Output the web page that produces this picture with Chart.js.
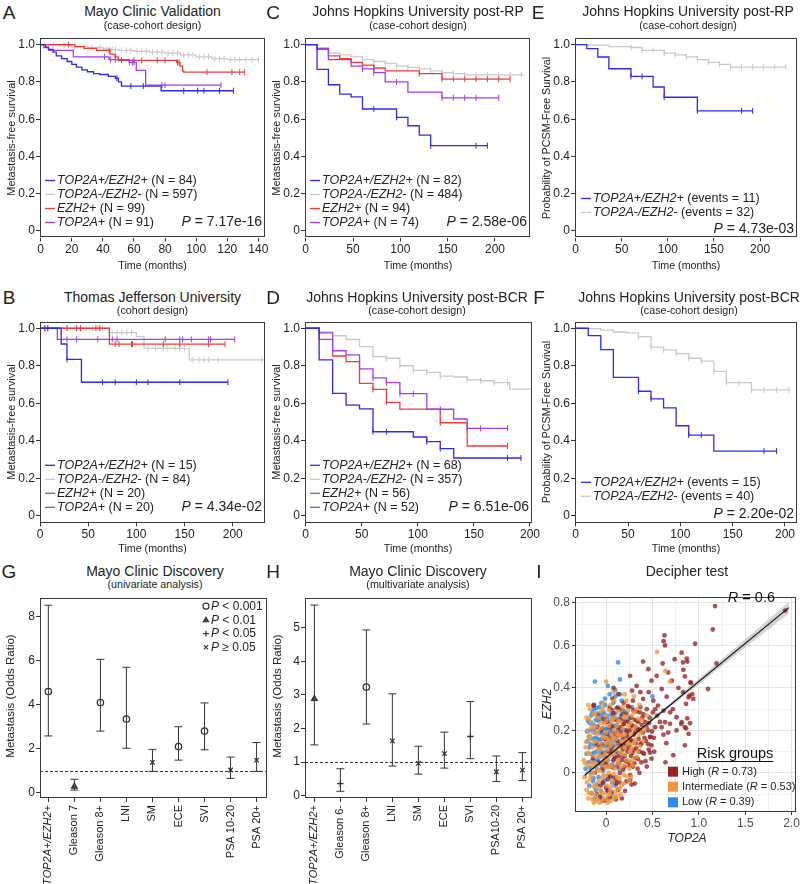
<!DOCTYPE html>
<html>
<head>
<meta charset="utf-8">
<script src="https://cdn.jsdelivr.net/npm/chart.js@4.4.0/dist/chart.umd.min.js"></script>
<style>
body { margin: 0; background: #fff; }
#fig { position: relative; width: 800px; height: 884px; overflow: hidden; font-family: "Liberation Sans", Arial, sans-serif; color: #222; }
#fig canvas { position: absolute; }
.t { position: absolute; white-space: nowrap; line-height: 1; transform: translate(-50%, -50%); }
.v { position: absolute; white-space: nowrap; line-height: 1; transform: translate(-50%, -50%) rotate(-90deg); }
</style>
</head>
<body>
<div id="fig"></div>
<script>
// ---- Kaplan-Meier data (time in months, survival, censor times) ----
// A: Mayo Clinic Validation
const aBlueT = [0, 3, 5, 8, 10, 13.5, 17, 20, 23, 26.5, 30, 34, 38, 43.5, 48, 50, 52, 77.5, 124];
const aBlueS = [1, .987, .975, .96, .94, .925, .91, .895, .88, .865, .855, .845, .84, .83, .82, .8, .778, .753, .753];
const aBlueC = [49, 58, 66, 92, 101, 105, 115, 124];
const aGrayT = [0, 5, 12, 20, 30, 40, 45, 50, 60, 70, 80, 90, 100, 110, 120, 140];
const aGrayS = [1, .998, .995, .99, .985, .978, .974, .97, .965, .96, .955, .945, .935, .925, .92, .918];
const aGrayC = [8, 15, 22, 28, 33, 38, 42, 46, 48, 52, 55, 58, 62, 65, 68, 72, 75, 78, 82, 85, 88, 92, 95, 98, 102, 105, 108, 112, 115, 118, 122, 125, 128, 132, 136, 140];
const aRedT = [0, 22, 28, 36, 44.6, 47.8, 50, 87.5, 89.6, 91.3, 92, 131];
const aRedS = [1, .99, .98, .97, .95, .935, .916, .905, .885, .86, .853, .853];
const aRedC = [18, 44, 48, 52, 60, 65, 75, 80, 88, 89, 107, 123, 128, 131];
const aPurT = [0, 2, 5, 21, 44, 57, 61.5, 67.5, 116];
const aPurS = [1, .985, .97, .935, .92, .905, .862, .783, .783];
const aPurC = [41, 45, 48, 57, 59, 60, 78, 80, 116];

// B: Thomas Jefferson University
const bBlueT = [0, 22, 28, 43, 195];
const bBlueS = [1, .916, .834, .712, .712];
const bBlueC = [28, 65, 78, 100, 112, 145, 195];
const bGrayT = [0, 72, 100, 108, 155, 233];
const bGrayS = [1, .977, .955, .893, .831, .831];
const bGrayC = [5, 8, 28, 38, 42, 48, 55, 60, 62, 65, 75, 80, 85, 90, 95, 112, 120, 128, 132, 140, 145, 150, 158, 165, 170, 175, 185, 230, 233];
const bRedT = [0, 72, 192];
const bRedS = [1, .915, .915];
const bRedC = [5, 8, 28, 38, 42, 58, 62, 78, 82, 95, 96, 128, 145, 175, 192];
const bPurT = [0, 18, 202];
const bPurS = [1, .941, .941];
const bPurC = [5, 8, 28, 38, 60, 75, 80, 130, 145, 148, 157, 175, 177, 202];

// C: Johns Hopkins post-RP
const cBlueT = [0, 12, 24, 36, 48, 60, 96, 108, 120, 132, 192];
const cBlueS = [1, .868, .785, .735, .72, .655, .61, .565, .515, .458, .458];
const cBlueC = [72, 96, 132, 180, 192];
const cGrayT = [0, 12, 24, 36, 48, 60, 72, 84, 96, 108, 120, 132, 144, 156, 168, 230];
const cGrayS = [1, .982, .955, .945, .935, .92, .91, .9, .885, .878, .87, .86, .85, .845, .838, .835];
const cGrayC = [60, 72, 84, 96, 108, 120, 132, 144, 156, 168, 180, 192, 204, 216, 228];
const cRedT = [0, 12, 24, 36, 48, 60, 72, 84, 120, 144, 216];
const cRedS = [1, .975, .94, .925, .905, .89, .875, .86, .845, .815, .815];
const cRedC = [60, 72, 120, 144, 156, 168, 180, 192, 204, 216];
const cPurT = [0, 12, 24, 48, 60, 72, 84, 108, 144, 204];
const cPurS = [1, .98, .92, .885, .87, .85, .8, .745, .715, .715];
const cPurC = [60, 72, 96, 144, 156, 168, 180, 204];

// D: Johns Hopkins post-BCR
const dBlueT = [0, 12, 24, 36, 48, 60, 96, 108, 120, 132, 192];
const dBlueS = [1, .831, .653, .59, .57, .448, .42, .395, .358, .308, .308];
const dBlueC = [60, 72, 108, 120, 180, 192];
const dGrayT = [0, 12, 24, 36, 48, 60, 72, 84, 96, 108, 120, 132, 144, 156, 168, 182, 204];
const dGrayS = [1, .98, .96, .94, .902, .849, .84, .8, .775, .765, .745, .74, .725, .72, .71, .675, .675];
const dGrayC = [60, 72, 84, 96, 108, 120, 144, 156, 168, 180, 204];
const dRedT = [0, 12, 24, 36, 48, 60, 72, 84, 120, 144, 180];
const dRedS = [1, .941, .852, .822, .706, .674, .605, .569, .496, .372, .372];
const dRedC = [60, 72, 120, 180];
const dPurT = [0, 12, 24, 36, 48, 60, 72, 84, 108, 132, 144, 180];
const dPurS = [1, .975, .88, .858, .783, .735, .71, .651, .568, .516, .466, .466];
const dPurC = [24, 60, 72, 84, 96, 120, 144, 156, 180];

// E: PCSM-free, post-RP
const eBlueT = [0, 12, 24, 36, 60, 84, 96, 132, 192];
const eBlueS = [1, .979, .934, .871, .83, .773, .718, .645, .645];
const eBlueC = [60, 72, 96, 132, 180, 192];
const eGrayT = [0, 12, 36, 60, 72, 96, 108, 120, 132, 144, 156, 168, 228];
const eGrayS = [1, .998, .99, .985, .97, .955, .945, .935, .92, .905, .895, .88, .88];
const eGrayC = [60, 72, 84, 96, 108, 120, 132, 144, 156, 168, 180, 192, 204, 216, 228];

// F: PCSM-free, post-BCR
const fBlueT = [0, 12, 24, 36, 60, 72, 84, 96, 108, 132, 192];
const fBlueS = [1, .961, .886, .738, .664, .623, .575, .48, .43, .345, .345];
const fBlueC = [60, 72, 108, 120, 180, 192];
const fGrayT = [0, 12, 24, 36, 48, 60, 72, 84, 96, 108, 120, 132, 144, 168, 204];
const fGrayS = [1, .998, .99, .98, .975, .955, .899, .885, .865, .84, .825, .77, .71, .671, .671];
const fGrayC = [60, 72, 84, 96, 108, 120, 132, 144, 156, 168, 180, 192, 204];

const kmYTicks = [0, 0.2, 0.4, 0.6, 0.8, 1.0];
const monthTicks140 = [0, 20, 40, 60, 80, 100, 120, 140];
const monthTicks200 = [0, 50, 100, 150, 200];

// ---- Odds ratio panels ----
const gCats = ['*TOP2A+/EZH2+*', 'Gleason 7', 'Gleason 8+', 'LNI', 'SM', 'ECE', 'SVI', 'PSA 10-20', 'PSA 20+'];
const gOR = [4.6, 0.28, 4.1, 3.35, 1.38, 2.1, 2.8, 1.03, 1.48];
const gLo = [2.58, 0.12, 2.8, 2.02, 0.97, 1.48, 1.95, 0.65, 0.97];
const gHi = [8.52, 0.61, 6.06, 5.7, 1.97, 3.0, 4.08, 1.62, 2.28];
const gSig = ['circle', 'triangle', 'circle', 'circle', 'crossRot', 'circle', 'circle', 'crossRot', 'crossRot'];
const gYTicks = [0, 2, 4, 6, 8];

const hCats = ['*TOP2A+/EZH2+*', 'Gleason 6-', 'Gleason 8+', 'LNI', 'SM', 'ECE', 'SVI', 'PSA10-20', 'PSA 20+'];
const hOR = [2.88, 0.36, 3.23, 1.63, 0.96, 1.25, 1.76, 0.71, 0.76];
const hLo = [1.51, 0.13, 2.13, 0.88, 0.64, 0.82, 1.1, 0.42, 0.45];
const hHi = [5.67, 0.8, 4.93, 3.03, 1.47, 1.89, 2.8, 1.18, 1.28];
const hSig = ['triangle', 'cross', 'circle', 'crossRot', 'crossRot', 'crossRot', 'cross', 'crossRot', 'crossRot'];
const hYTicks = [0, 1, 2, 3, 4, 5];

const sigStyles = ['circle', 'triangle', 'cross', 'crossRot'];
const sigLabels = ['*P* < 0.001', '*P* < 0.01', '*P* < 0.05', '*P* ≥ 0.05'];

// ---- Decipher scatter (TOP2A, EZH2) ----
const iHigh = [[-0.12,0.0],[-0.1,-0.1],[-0.08,0.05],[-0.07,0.12],[-0.06,-0.06],[-0.05,0.2],[-0.04,0.02],[-0.03,0.09],[-0.02,-0.13],[-0.01,0.16],[0,0.05],[0.01,0.24],[0.02,-0.03],[0.03,0.1],[0.04,0.17],[0.05,0.03],[0.06,0.22],[0.06,-0.09],[0.07,0.13],[0.08,0.28],[0.08,0.06],[0.09,-0.02],[0.1,0.19],[0.1,0.1],[0.11,0.25],[0.12,0.03],[0.12,0.15],[0.13,-0.08],[0.13,0.21],[0.14,0.08],[0.14,0.3],[0.15,0.13],[0.15,0.0],[0.16,0.19],[0.16,0.25],[0.17,0.06],[0.17,-0.12],[0.18,0.11],[0.18,0.16],[0.19,0.23],[0.19,0.33],[0.2,0.03],[0.2,0.08],[0.21,0.14],[0.21,0.2],[0.22,0.28],[0.22,-0.04],[0.23,0.1],[0.23,0.17],[0.24,0.24],[0.24,0.05],[0.25,0.31],[0.25,0.13],[0.26,0.2],[0.26,-0.01],[0.27,0.08],[0.27,0.26],[0.28,0.15],[0.28,0.22],[0.29,0.03],[0.29,0.34],[0.3,0.11],[0.3,0.18],[0.31,0.25],[0.31,-0.05],[0.32,0.07],[0.32,0.14],[0.33,0.21],[0.33,0.29],[0.34,0.02],[0.35,0.16],[0.35,0.24],[0.36,0.1],[0.37,0.2],[0.37,0.31],[0.38,0.05],[0.38,0.14],[0.39,0.26],[0.4,0.19],[0.41,0.09],[0.42,0.24],[0.43,0.15],[0.44,0.3],[0.45,0.2],[0.46,0.11],[0.47,0.26],[0.48,0.17],[-0.09,0.27],[-0.11,0.14],[0.0,-0.07],[0.04,0.31],[0.03,-0.12],[0.11,-0.05],[0.07,0.35],[-0.13,0.32],[-0.14,0.07],
  [-0.045,0.135],[-0.035,-0.045],[-0.025,0.255],[-0.015,0.045],[0.005,0.185],[0.015,-0.085],[0.025,0.135],[0.035,0.215],[0.045,-0.015],[0.055,0.105],[0.065,0.295],[0.075,0.025],[0.085,0.185],[0.095,0.075],[0.105,-0.035],[0.115,0.305],[0.125,0.175],[0.135,0.045],[0.145,-0.045],[0.155,0.215],[0.165,0.125],[0.175,0.275],[0.185,0.015],[0.195,0.135],[0.205,0.245],[0.215,0.055],[0.225,0.185],[0.235,0.315],[0.245,0.115],[0.255,0.035],[0.265,0.155],[0.275,0.225],[0.285,0.095],[0.295,0.295],[0.305,0.045],[0.315,0.195],[0.325,0.115],[0.335,0.245],[0.345,0.065],[0.355,0.205],[0.365,0.285],[0.375,0.135],[0.385,0.225],[0.395,0.095],[0.405,0.275],[0.415,0.165],[0.425,0.055],[0.435,0.215],[0.455,0.135],[0.465,0.235],[0.475,0.095],[0.495,0.195],[0.505,0.285],[0.515,0.165],[-0.065,-0.115],[0.045,-0.115],[0.105,-0.125],[0.205,-0.085],[0.275,-0.055],[-0.095,0.215],
  [1.175,0.785],[1.15,0.675],[1.1,0.395],[0.96,0.608],[1.93,0.764],[0.636,0.6],[0.63,0.647],[0.62,0.62],[0.456,0.488],[0.4,0.524],[0.815,0.566],[0.74,0.535],[0.83,0.52],[0.87,0.538],[0.61,0.515],[0.67,0.473],[0.71,0.434],[0.78,0.4],[0.83,0.38],[0.91,0.426],[0.93,0.371],[0.89,0.356],[0.94,0.348],[0.546,0.457],[0.49,0.434],[0.6,0.395],[0.654,0.359],[0.26,0.457],[0.33,0.41],[0.37,0.38],[0.28,0.387],[0.4,0.348],[0.51,0.34],[0.56,0.317],[0.62,0.293],[0.69,0.285],[0.76,0.262],[0.815,0.239],[0.85,0.215],[0.89,0.184],[0.85,0.13],[0.76,0.2],[0.69,0.231],[0.636,0.239],[0.6,0.215],[0.67,0.19],[0.725,0.083],[0.474,0.168],[0.49,0.13],[0.528,0.215],[-0.136,0.317],[0.08,0.4],[0.133,0.371],[0.58,0.24],[0.62,0.18],[0.65,0.14],[0.49,0.067],[0.64,0.05],[0.44,0.03],[0.36,0.0],[0.26,-0.034],[0.55,0.27],[0.52,0.1],[0.72,0.3],[0.46,0.38],[0.53,0.3],[1.19,0.515],[0.876,0.524],[0.833,0.485],[0.85,0.454],[0.916,0.423],[0.9,0.364],[0.862,0.325],[0.876,0.257],[0.905,0.234],[0.81,0.23],[0.862,0.21]];
const iMid = [[-0.24,0.06],[-0.23,-0.02],[-0.22,0.12],[-0.21,-0.08],[-0.2,0.2],[-0.2,0.03],[-0.19,-0.12],[-0.18,0.09],[-0.18,0.16],[-0.17,-0.03],[-0.16,0.24],[-0.16,0.05],[-0.15,-0.1],[-0.15,0.12],[-0.14,0.19],[-0.13,0.0],[-0.13,0.28],[-0.12,0.08],[-0.12,-0.06],[-0.11,0.15],[-0.11,0.22],[-0.1,-0.13],[-0.1,0.04],[-0.09,0.11],[-0.09,0.18],[-0.08,0.26],[-0.08,-0.04],[-0.07,0.01],[-0.07,0.08],[-0.06,0.14],[-0.06,0.21],[-0.05,-0.09],[-0.05,0.29],[-0.04,0.05],[-0.04,0.12],[-0.03,0.17],[-0.03,-0.01],[-0.02,0.23],[-0.02,-0.12],[-0.01,0.09],[-0.01,0.03],[0,0.14],[0,0.19],[0,0.27],[0.01,-0.06],[0.01,0.06],[0.02,0.11],[0.02,0.16],[0.03,0.0],[0.03,0.22],[0.04,-0.1],[0.04,0.08],[0.05,0.13],[0.05,0.32],[0.06,0.03],[0.06,0.18],[0.07,0.24],[0.07,-0.04],[0.08,0.09],[0.08,0.14],[0.09,0.2],[0.09,-0.12],[0.1,0.02],[0.1,0.26],[0.11,0.11],[0.11,0.16],[0.12,-0.02],[0.12,0.22],[0.13,0.06],[0.13,0.29],[0.14,0.12],[0.14,0.18],[0.15,-0.07],[0.15,0.24],[0.16,0.03],[0.17,0.09],[0.17,0.15],[0.18,0.21],[0.18,0.31],[0.19,-0.01],[0.2,0.12],[0.2,0.18],[0.21,0.26],[0.22,0.06],[0.23,0.14],[0.24,0.22],[0.25,0.02],[0.26,0.1],[0.27,0.18],[0.28,0.27],[0.29,0.06],[0.3,0.14],[0.32,0.22],[0.33,0.3],[0.34,0.1],[0.36,0.18],[0.38,0.25],[0.4,0.15],[0.42,0.21],[-0.03,0.33],[0.09,0.34],[0.22,0.34],[-0.17,0.3],[-0.21,0.26],[0.02,-0.14],[-0.07,-0.14],[0.12,-0.11],[0.19,-0.05],[0.05,-0.13],[-0.13,-0.14],[0.16,-0.1],[0.25,-0.04],[0.0,0.43],[0.2,0.37],[0.55,0.57],[0.64,0.48],[0.69,0.43],[0.36,0.32],[0.44,0.27],[0.3,0.36],[0.27,-0.02],[-0.19,0.32],[0.08,0.38],
  [-0.225,0.045],[-0.215,0.145],[-0.205,-0.045],[-0.195,0.095],[-0.185,-0.095],[-0.175,0.175],[-0.165,-0.015],[-0.155,0.215],[-0.145,0.035],[-0.135,-0.065],[-0.125,0.145],[-0.115,0.045],[-0.105,-0.105],[-0.095,0.195],[-0.085,0.015],[-0.075,-0.075],[-0.065,0.115],[-0.055,0.235],[-0.045,-0.025],[-0.035,0.075],[-0.025,-0.095],[-0.015,0.165],[-0.005,-0.015],[0.005,0.245],[0.015,0.025],[0.025,-0.105],[0.035,0.145],[0.045,0.035],[0.055,-0.065],[0.065,0.255],[0.075,0.165],[0.085,-0.005],[0.095,0.105],[0.105,-0.085],[0.115,0.185],[0.125,0.045],[0.135,0.245],[0.145,-0.025],[0.155,0.095],[0.165,0.175],[0.175,-0.055],[0.185,0.035],[0.195,0.265],[0.205,0.085],[0.215,0.155],[0.225,-0.015],[0.235,0.295],[0.245,0.135],[0.255,0.055],[0.265,0.235],[0.275,0.115],[0.285,0.035],[0.295,0.205],[0.305,0.285],[0.315,0.155],[0.335,0.075],[0.345,0.255],[0.365,0.125],[0.385,0.195],[-0.095,-0.125],[-0.045,-0.135],[0.005,-0.125],[0.045,-0.085],[0.095,-0.105],[0.135,-0.075],[-0.145,-0.125],[-0.185,0.255],[-0.115,0.275],[-0.035,0.305],[0.035,0.295]];
const iLow = [[-0.19,0.05],[-0.18,0.12],[-0.17,0.2],[-0.16,0.27],[-0.16,0.0],[-0.15,0.09],[-0.15,0.16],[-0.14,0.23],[-0.14,-0.04],[-0.13,0.3],[-0.13,0.06],[-0.12,0.13],[-0.12,0.19],[-0.11,0.25],[-0.11,-0.08],[-0.1,0.02],[-0.1,0.1],[-0.1,0.16],[-0.09,0.22],[-0.09,0.28],[-0.08,-0.02],[-0.08,0.07],[-0.08,0.13],[-0.07,0.19],[-0.07,0.31],[-0.06,0.25],[-0.06,-0.11],[-0.06,0.04],[-0.05,0.1],[-0.05,0.16],[-0.04,0.21],[-0.04,0.28],[-0.03,-0.05],[-0.03,0.01],[-0.03,0.13],[-0.02,0.07],[-0.02,0.18],[-0.02,0.24],[-0.01,0.32],[0,-0.13],[0,0.03],[0,0.1],[0,0.15],[0.01,0.21],[0.01,0.27],[0.02,-0.08],[0.02,0.06],[0.03,0.12],[0.03,0.18],[0.04,0.24],[0.04,0.3],[0.05,-0.02],[0.05,0.09],[0.06,0.15],[0.06,0.2],[0.07,0.26],[0.07,0.04],[0.08,0.33],[0.08,0.11],[0.09,0.17],[0.09,0.22],[0.1,-0.06],[0.1,0.28],[0.11,0.07],[0.11,0.13],[0.12,0.19],[0.12,0.25],[0.13,0.31],[0.14,0.02],[0.14,0.15],[0.15,0.21],[0.16,0.27],[0.16,0.09],[0.17,0.34],[0.18,0.17],[0.19,0.23],[0.2,0.29],[0.21,0.12],[0.23,0.2],[0.25,0.26],[-0.2,0.15],[-0.21,0.09],[-0.18,-0.06],[-0.12,-0.12],[-0.04,-0.13],[0.06,-0.1],[0.1,0.36],[0.04,0.37],[0.15,0.37],[-0.05,0.33],[0.02,0.41],[0.1,0.39],[-0.12,0.43],[0.13,0.52],[0.15,0.44],[-0.01,0.35],[0.5,0.36],[0.28,0.31],[0.3,0.22],[-0.22,0.02],
  [-0.185,0.17],[-0.175,0.235],[-0.165,0.135],[-0.155,0.055],[-0.145,0.285],[-0.135,0.205],[-0.125,0.095],[-0.115,0.165],[-0.105,0.305],[-0.095,0.055],[-0.085,0.245],[-0.075,0.155],[-0.065,0.085],[-0.055,0.265],[-0.045,0.185],[-0.035,0.045],[-0.025,0.285],[-0.015,0.125],[-0.005,0.205],[0.005,0.075],[0.015,0.255],[0.025,0.155],[0.035,0.035],[0.045,0.195],[0.055,0.275],[0.065,0.115],[0.075,0.215],[0.085,0.065],[0.095,0.255],[0.105,0.155],[0.115,0.225],[0.125,0.095],[0.135,0.185],[0.145,0.255],[0.155,0.135],[0.165,0.205],[0.175,0.295],[-0.175,0.025],[-0.135,-0.025],[-0.095,-0.055],[-0.055,-0.085],[-0.015,-0.035],[0.025,-0.015],[0.065,-0.045],[-0.155,-0.095],[-0.205,0.195],[-0.195,0.245],[0.205,0.165],[0.185,0.075],[0.225,0.245]];
const fitX = [-0.23, 1.97];
const fitY = [-0.011, 0.778];
const bandX = [-0.23, 0.2, 0.6, 1.0, 1.5, 1.97];
const bandLo = [-0.023, 0.138, 0.279, 0.416, 0.589, 0.75];
const bandHi = [0.001, 0.15, 0.295, 0.444, 0.629, 0.804];
const iXTicks = [-0.25, 0, 0.25, 0.5, 0.75, 1, 1.25, 1.5, 1.75, 2];
const iYTicks = [-0.1, 0, 0.1, 0.2, 0.3, 0.4, 0.5, 0.6, 0.7, 0.8];
const riskNames = ['High (*R* = 0.73)', 'Intermediate (*R* = 0.53)', 'Low (*R* = 0.39)'];

// ---- colours ----
const BLUE = '#2b2bf0', GRAY = '#c9c9c9', RED = '#f23a3a', PURPLE = '#a33cf5';
const HIGH = 'rgba(150,35,35,0.78)', MID = 'rgba(240,150,60,0.78)', LOW = 'rgba(40,140,235,0.78)';
const FONT = '"Liberation Sans", Arial, sans-serif';

Chart.defaults.font.family = FONT;
Chart.defaults.color = '#222';
Chart.defaults.animation = false;
Chart.defaults.events = [];
Chart.defaults.plugins.legend.display = false;
Chart.defaults.plugins.tooltip.enabled = false;

const fig = document.getElementById('fig');

function label(html, x, y, size, cls) {
    const d = document.createElement('div');
    d.className = cls || 't';
    d.innerHTML = html;
    d.style.left = x + 'px';
    d.style.top = y + 'px';
    d.style.fontSize = size + 'px';
    fig.appendChild(d);
    return d;
}

// text with *italic* parts drawn on a canvas
function rich(ctx, txt, x, y, size, align) {
    const parts = txt.split('*');
    let w = 0;
    parts.forEach((p, i) => {
        ctx.font = (i % 2 ? 'italic ' : '') + size + 'px ' + FONT;
        w += ctx.measureText(p).width;
    });
    let cx = align === 'right' ? x - w : align === 'center' ? x - w / 2 : x;
    ctx.textAlign = 'left';
    ctx.textBaseline = 'middle';
    parts.forEach((p, i) => {
        ctx.font = (i % 2 ? 'italic ' : '') + size + 'px ' + FONT;
        ctx.fillText(p, cx, y);
        cx += ctx.measureText(p).width;
    });
    return w;
}

function makeCanvas(area, padL, padT, padR, padB) {
    const left = Math.floor(area.l - padL), top = Math.floor(area.t - padT);
    const right = Math.ceil(area.r + padR), bottom = Math.ceil(area.b + padB);
    const c = document.createElement('canvas');
    c.width = right - left;
    c.height = bottom - top;
    c.style.left = left + 'px';
    c.style.top = top + 'px';
    c.style.width = c.width + 'px';
    c.style.height = c.height + 'px';
    fig.appendChild(c);
    return { c, pad: { left: 0, top: area.t - top, right: right - area.r, bottom: 0 }, yW: area.l - left, xH: bottom - area.b };
}

function axis(min, max, ticks, fmt, fit, size) {
    return {
        type: 'linear', min, max,
        afterBuildTicks: s => { s.ticks = ticks.map(v => ({ value: v })); },
        afterFit: fit,
        border: { display: false },
        grid: { drawOnChartArea: false, drawTicks: true, tickLength: 4, tickColor: '#333', tickWidth: 1 },
        ticks: { callback: fmt, font: { size: size || 12 }, color: '#222', padding: 1, maxRotation: 0, autoSkip: false }
    };
}

const boxPlug = {
    id: 'box',
    afterDatasetsDraw(ch) {
        const a = ch.chartArea, ctx = ch.ctx;
        ctx.save();
        ctx.strokeStyle = '#3a3a3a';
        ctx.lineWidth = 1;
        ctx.strokeRect(Math.round(a.left) + 0.5, Math.round(a.top) + 0.5, Math.round(a.right - a.left) - 1, Math.round(a.bottom - a.top) - 1);
        ctx.restore();
    }
};

function survAt(T, S, t) {
    let v = S[0];
    for (let i = 0; i < T.length; i++) if (T[i] <= t) v = S[i];
    return v;
}

function kmPanel(o) {
    const m = makeCanvas(o.area, 40, 8, 14, 26);
    const datasets = [];
    o.curves.forEach(cv => {
        datasets.push({
            data: cv.t.map((t, i) => ({ x: t, y: cv.s[i] })),
            showLine: true, stepped: true, borderColor: cv.color, borderWidth: 1.3,
            pointRadius: 0, fill: false, order: cv.z
        });
        datasets.push({
            data: cv.c.map(t => ({ x: t, y: survAt(cv.t, cv.s, t) })),
            showLine: false, pointStyle: 'line', rotation: 90, pointRadius: 3,
            borderColor: cv.color, pointBorderWidth: 1, order: cv.z
        });
    });
    const legend = {
        id: 'kmleg',
        afterDraw(ch) {
            const a = ch.chartArea, ctx = ch.ctx;
            ctx.save();
            o.legend.forEach((txt, i) => {
                const y = a.bottom + o.rows[i];
                ctx.strokeStyle = o.curves[i].color;
                ctx.lineWidth = 1.3;
                ctx.beginPath();
                ctx.moveTo(a.left + o.lx, y);
                ctx.lineTo(a.left + o.lx + 10, y);
                ctx.stroke();
                ctx.fillStyle = '#222';
                rich(ctx, txt, a.left + o.lx + 12, y, 12.5, 'left');
            });
            rich(ctx, o.p, a.right - 3, a.bottom + o.py, 14, 'right');
            ctx.restore();
        }
    };
    new Chart(m.c, {
        type: 'scatter',
        data: { datasets },
        options: {
            responsive: false, devicePixelRatio: 1,
            layout: { padding: m.pad },
            scales: {
                x: axis(o.x[0], o.x[1], o.xTicks, v => String(v), s => { s.height = m.xH; }),
                y: axis(-0.035, 1.035, kmYTicks, v => v === 0 ? '0' : v.toFixed(1), s => { s.width = m.yW; })
            }
        },
        plugins: [boxPlug, legend]
    });
}

const km4Rows = [-57, -43, -29, -15];
kmPanel({
    area: { l: 40, t: 38, r: 265, b: 237.5 }, x: [-0.45, 144.3], xTicks: monthTicks140,
    curves: [
        { t: aBlueT, s: aBlueS, c: aBlueC, color: BLUE, z: 1 },
        { t: aGrayT, s: aGrayS, c: aGrayC, color: GRAY, z: 4 },
        { t: aRedT, s: aRedS, c: aRedC, color: RED, z: 3 },
        { t: aPurT, s: aPurS, c: aPurC, color: PURPLE, z: 2 }
    ],
    legend: ['*TOP2A+/EZH2+* (N = 84)', '*TOP2A-/EZH2-* (N = 597)', '*EZH2+* (N = 99)', '*TOP2A+* (N = 91)'],
    rows: km4Rows, lx: 5, p: '*P* = 7.17e-16', py: -15
});
kmPanel({
    area: { l: 305, t: 38, r: 530, b: 237.5 }, x: [-0.74, 237], xTicks: monthTicks200,
    curves: [
        { t: cBlueT, s: cBlueS, c: cBlueC, color: BLUE, z: 1 },
        { t: cGrayT, s: cGrayS, c: cGrayC, color: GRAY, z: 4 },
        { t: cRedT, s: cRedS, c: cRedC, color: RED, z: 3 },
        { t: cPurT, s: cPurS, c: cPurC, color: PURPLE, z: 2 }
    ],
    legend: ['*TOP2A+/EZH2+* (N = 82)', '*TOP2A-/EZH2-* (N = 484)', '*EZH2+* (N = 94)', '*TOP2A+* (N = 74)'],
    rows: km4Rows, lx: 5, p: '*P* = 2.58e-06', py: -15
});
kmPanel({
    area: { l: 575, t: 38, r: 797, b: 237.5 }, x: [-0.76, 240.1], xTicks: monthTicks200,
    curves: [
        { t: eBlueT, s: eBlueS, c: eBlueC, color: BLUE, z: 1 },
        { t: eGrayT, s: eGrayS, c: eGrayC, color: GRAY, z: 2 }
    ],
    legend: ['*TOP2A+/EZH2+* (events = 11)', '*TOP2A-/EZH2-* (events = 32)'],
    rows: [-39, -25], lx: 6, p: '*P* = 4.73e-03', py: -8
});
kmPanel({
    area: { l: 40, t: 321.7, r: 265, b: 522.3 }, x: [0, 233.5], xTicks: monthTicks200,
    curves: [
        { t: bBlueT, s: bBlueS, c: bBlueC, color: BLUE, z: 1 },
        { t: bGrayT, s: bGrayS, c: bGrayC, color: GRAY, z: 4 },
        { t: bRedT, s: bRedS, c: bRedC, color: RED, z: 3 },
        { t: bPurT, s: bPurS, c: bPurC, color: PURPLE, z: 2 }
    ],
    legend: ['*TOP2A+/EZH2+* (N = 15)', '*TOP2A-/EZH2-* (N = 84)', '*EZH2+* (N = 20)', '*TOP2A+* (N = 20)'],
    rows: km4Rows, lx: 5, p: '*P* = 4.34e-02', py: -15
});
kmPanel({
    area: { l: 305, t: 321.7, r: 532, b: 522.3 }, x: [-0.62, 201.8], xTicks: monthTicks200,
    curves: [
        { t: dBlueT, s: dBlueS, c: dBlueC, color: BLUE, z: 1 },
        { t: dGrayT, s: dGrayS, c: dGrayC, color: GRAY, z: 4 },
        { t: dRedT, s: dRedS, c: dRedC, color: RED, z: 3 },
        { t: dPurT, s: dPurS, c: dPurC, color: PURPLE, z: 2 }
    ],
    legend: ['*TOP2A+/EZH2+* (N = 68)', '*TOP2A-/EZH2-* (N = 357)', '*EZH2+* (N = 56)', '*TOP2A+* (N = 52)'],
    rows: km4Rows, lx: 5, p: '*P* = 6.51e-06', py: -15
});
kmPanel({
    area: { l: 575, t: 321.7, r: 797, b: 522.3 }, x: [-0.67, 211.5], xTicks: monthTicks200,
    curves: [
        { t: fBlueT, s: fBlueS, c: fBlueC, color: BLUE, z: 1 },
        { t: fGrayT, s: fGrayS, c: fGrayC, color: GRAY, z: 2 }
    ],
    legend: ['*TOP2A+/EZH2+* (events = 15)', '*TOP2A-/EZH2-* (events = 40)'],
    rows: [-40, -26], lx: 6, p: '*P* = 2.20e-02', py: -8
});

// ---- odds ratio panels ----
function orPanel(o) {
    const m = makeCanvas(o.area, 40, 8, 6, 86);
    const datasets = [];
    o.or.forEach((v, i) => {
        datasets.push({
            data: [{ x: i, y: o.lo[i] }, { x: i, y: o.hi[i] }],
            showLine: true, borderColor: '#333', borderWidth: 1,
            pointStyle: 'line', pointRadius: 4, pointBorderWidth: 1, pointBorderColor: '#333', order: 2
        });
    });
    datasets.push({
        data: o.or.map((v, i) => ({ x: i, y: v })),
        pointStyle: o.sig, pointRadius: 3.2, pointBorderWidth: 1.3, pointBorderColor: '#333',
        pointBackgroundColor: o.sig.map(s => s === 'triangle' ? '#555' : 'rgba(0,0,0,0)'), order: 1
    });
    const extras = {
        id: 'orx',
        beforeDatasetsDraw(ch) {
            const a = ch.chartArea, ctx = ch.ctx, y1 = ch.scales.y.getPixelForValue(1);
            ctx.save();
            ctx.strokeStyle = '#333';
            ctx.lineWidth = 1;
            ctx.setLineDash([3, 2]);
            ctx.beginPath();
            ctx.moveTo(a.left, Math.round(y1) + 0.5);
            ctx.lineTo(a.right, Math.round(y1) + 0.5);
            ctx.stroke();
            ctx.restore();
        },
        afterDraw(ch) {
            const a = ch.chartArea, ctx = ch.ctx, xs = ch.scales.x;
            ctx.save();
            ctx.fillStyle = '#222';
            o.cats.forEach((c, i) => {
                ctx.save();
                ctx.translate(xs.getPixelForValue(i), a.bottom + 7);
                ctx.rotate(-Math.PI / 2);
                rich(ctx, c, 0, 0, 11, 'right');
                ctx.restore();
            });
            if (o.key) {
                sigStyles.forEach((s, i) => {
                    const y = a.top + [8, 22, 35.5, 49][i];
                    ctx.strokeStyle = '#333';
                    ctx.fillStyle = s === 'triangle' ? '#555' : 'rgba(0,0,0,0)';
                    ctx.lineWidth = 1.2;
                    Chart.helpers.drawPoint(ctx, { pointStyle: s, radius: 3, borderWidth: 1.2, rotation: 0 }, a.right - 61, y);
                    ctx.fillStyle = '#222';
                    rich(ctx, sigLabels[i], a.right - 56, y, 12, 'left');
                });
            }
            ctx.restore();
        }
    };
    new Chart(m.c, {
        type: 'scatter',
        data: { datasets },
        options: {
            responsive: false, devicePixelRatio: 1,
            layout: { padding: m.pad },
            scales: {
                x: axis(o.x[0], o.x[1], o.cats.map((c, i) => i), () => '', s => { s.height = m.xH; }),
                y: axis(o.y[0], o.y[1], o.yTicks, v => String(v), s => { s.width = m.yW; })
            }
        },
        plugins: [boxPlug, extras]
    });
}
orPanel({ area: { l: 40, t: 598, r: 267, b: 798 }, x: [-0.32, 8.4], y: [-0.24, 8.84], yTicks: gYTicks,
    cats: gCats, or: gOR, lo: gLo, hi: gHi, sig: gSig, key: true });
orPanel({ area: { l: 305, t: 598, r: 532, b: 798 }, x: [-0.36, 8.37], y: [-0.07, 5.875], yTicks: hYTicks,
    cats: hCats, or: hOR, lo: hLo, hi: hHi, sig: hSig, key: false });

// ---- scatter panel I ----
(function () {
    const area = { l: 575, t: 596, r: 796, b: 812 };
    const m = makeCanvas(area, 40, 8, 6, 16);
    const pts = arr => arr.map(p => ({ x: p[0], y: p[1] }));
    const major = v => Math.abs(v * 2 - Math.round(v * 2)) < 1e-6;
    const majorY = v => Math.abs(v * 5 - Math.round(v * 5)) < 1e-6;
    const xAx = axis(-0.334, 2.047, iXTicks, v => !major(v) ? '' : (v === 0 ? '0' : v.toFixed(1)), s => { s.height = m.xH; });
    xAx.grid = { drawOnChartArea: true, drawTicks: true, tickLength: 3,
        color: c => major(c.tick.value) ? '#e4e4e4' : '#f1f1f1',
        tickColor: c => major(c.tick.value) ? '#333' : 'rgba(0,0,0,0)' };
    xAx.ticks.color = '#4d4d4d';
    const yAx = axis(-0.184, 0.827, iYTicks, v => !majorY(v) ? '' : (Math.abs(v) < 1e-6 ? '0' : v.toFixed(1)), s => { s.width = m.yW; });
    yAx.grid = { drawOnChartArea: true, drawTicks: true, tickLength: 3,
        color: c => majorY(c.tick.value) ? '#e4e4e4' : '#f1f1f1',
        tickColor: c => majorY(c.tick.value) ? '#333' : 'rgba(0,0,0,0)' };
    yAx.ticks.color = '#4d4d4d';
    yAx.ticks.padding = 2;

    const legend = {
        id: 'ileg',
        afterDraw(ch) {
            const a = ch.chartArea, ctx = ch.ctx;
            ctx.save();
            ctx.fillStyle = '#111';
            rich(ctx, '*R* = 0.6', a.right - 21, a.top + 1, 14.5, 'right');
            const w = rich(ctx, 'Risk groups', a.left + 160, a.bottom - 58, 14.5, 'center');
            ctx.strokeStyle = '#111';
            ctx.lineWidth = 1;
            ctx.beginPath();
            ctx.moveTo(a.left + 160 - w / 2, a.bottom - 50.5);
            ctx.lineTo(a.left + 160 + w / 2, a.bottom - 50.5);
            ctx.stroke();
            [HIGH, MID, LOW].forEach((col, i) => {
                const y = a.bottom + [-40.3, -25.3, -9.7][i];
                ctx.fillStyle = col.replace('0.78', '1');
                ctx.fillRect(a.left + 93, y - 5, 10, 10);
                ctx.fillStyle = '#222';
                rich(ctx, riskNames[i], a.left + 107, y, 11, 'left');
            });
            ctx.restore();
        }
    };

    new Chart(m.c, {
        type: 'scatter',
        data: {
            datasets: [
                { data: bandX.map((x, i) => ({ x, y: bandLo[i] })), showLine: true, borderWidth: 0, pointRadius: 0, fill: false, order: 9 },
                { data: bandX.map((x, i) => ({ x, y: bandHi[i] })), showLine: true, borderWidth: 0, pointRadius: 0, fill: '-1', backgroundColor: 'rgba(160,160,160,0.45)', order: 8 },
                { data: pts(iLow), pointRadius: 2.4, backgroundColor: LOW, borderWidth: 0, order: 7 },
                { data: pts(iHigh), pointRadius: 2.4, backgroundColor: HIGH, borderWidth: 0, order: 6 },
                { data: pts(iMid), pointRadius: 2.4, backgroundColor: MID, borderWidth: 0, order: 5 },
                { data: fitX.map((x, i) => ({ x, y: fitY[i] })), showLine: true, borderColor: '#111', borderWidth: 1.2, pointRadius: 0, order: 1 }
            ]
        },
        options: {
            responsive: false, devicePixelRatio: 1,
            layout: { padding: m.pad },
            scales: { x: xAx, y: yAx }
        },
        plugins: [boxPlug, legend]
    });
})();

// ---- titles, letters, axis titles ----
[['A', 9, 12], ['B', 9, 297], ['C', 273, 12], ['D', 273, 297], ['E', 538, 12], ['F', 539, 297], ['G', 9, 571], ['H', 273, 571], ['I', 539, 571]]
    .forEach(l => label(l[0], l[1], l[2], 19));

[['Mayo Clinic Validation', '(case-cohort design)', 152.5, 11],
 ['Johns Hopkins University post-RP', '(case-cohort design)', 418, 11],
 ['Johns Hopkins University post-RP', '(case-cohort design)', 688, 11],
 ['Thomas Jefferson University', '(cohort design)', 152.5, 296.5],
 ['Johns Hopkins University post-BCR', '(case-cohort design)', 417, 296.5],
 ['Johns Hopkins University post-BCR', '(case-cohort design)', 689, 296.5],
 ['Mayo Clinic Discovery', '(univariate analysis)', 155, 570.5],
 ['Mayo Clinic Discovery', '(multivariate analysis)', 418, 570.5],
 ['Decipher test', '', 687, 570.5]].forEach(t => {
    label(t[0], t[2], t[3], 14);
    if (t[1]) label(t[1], t[2], t[3] + 13.8, 10.7);
});

[[152.5, 265], [418, 265], [686, 265], [152.5, 547.5], [418, 547.5], [686, 548]]
    .forEach(p => label('Time (months)', p[0], p[1], 10.7));
[[11, 137.5], [276, 137.5], [11, 422], [276, 422]].forEach(p => label('Metastasis-free survival', p[0], p[1], 11, 'v'));
[[546, 137.5], [546, 422]].forEach(p => label('Probability of PCSM-Free Survival', p[0], p[1], 10.7, 'v'));
[[10.5, 696], [278, 696]].forEach(p => label('Metastasis (Odds Ratio)', p[0], p[1], 11.5, 'v'));
label('<i>EZH2</i>', 547, 704, 12, 'v');
label('<i>TOP2A</i>', 687, 838, 12);
</script>
</body>
</html>
